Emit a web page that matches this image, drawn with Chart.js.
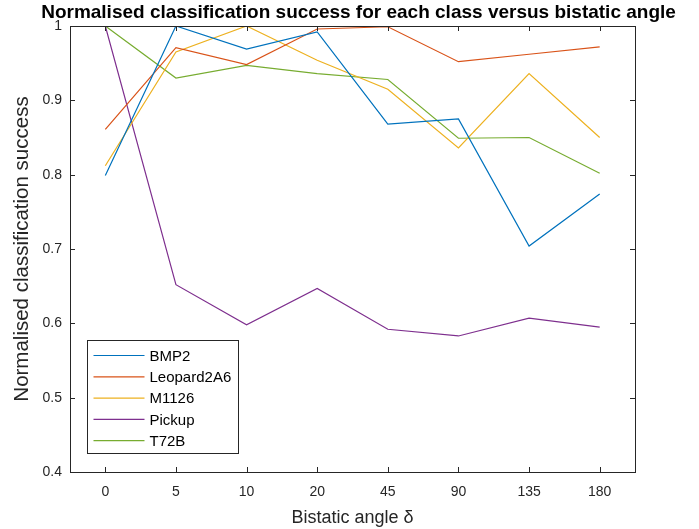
<!DOCTYPE html>
<html>
<head>
<meta charset="utf-8">
<script src="https://cdn.jsdelivr.net/npm/chart.js@4"></script>
<style>
  html, body { margin: 0; padding: 0; background: #fff; }
  #wrap { width: 699px; height: 529px; }
</style>
</head>
<body>
<div id="wrap"><canvas id="chart" width="699" height="529"></canvas></div>
<script>
// ==============================
//  DATA
// ==============================
const ANGLES = ['0', '5', '10', '20', '45', '90', '135', '180'];
const Y_TICKS = [0.4, 0.5, 0.6, 0.7, 0.8, 0.9, 1];

const bmp2      = [0.799, 1.000, 0.969, 0.992, 0.868, 0.875, 0.704, 0.774];
const leopard   = [0.861, 0.971, 0.948, 0.996, 0.999, 0.952, 0.962, 0.972];
const m1126     = [0.812, 0.965, 1.000, 0.954, 0.915, 0.836, 0.936, 0.850];
const pickup    = [1.000, 0.652, 0.598, 0.647, 0.592, 0.583, 0.607, 0.595];
const t72b      = [1.000, 0.930, 0.947, 0.936, 0.928, 0.849, 0.850, 0.802];

const SERIES = [
  { label: 'BMP2',       data: bmp2,    color: '#0072BD' },
  { label: 'Leopard2A6', data: leopard, color: '#D95319' },
  { label: 'M1126',      data: m1126,   color: '#EDB120' },
  { label: 'Pickup',     data: pickup,  color: '#7E2F8E' },
  { label: 'T72B',       data: t72b,    color: '#77AC30' },
];

const FONT = 'Liberation Sans, Arial, Helvetica, sans-serif';
const AXIS = '#262626';

// ==============================
//  PLUGINS
// ==============================
// box round the axes with inward ticks on all four sides (MATLAB style)
const boxPlugin = {
  id: 'box',
  afterDatasetsDraw(chart) {
    const { ctx, chartArea: a, scales } = chart;
    ctx.save();
    ctx.strokeStyle = AXIS;
    ctx.lineWidth = 1;
    ctx.strokeRect(Math.round(a.left) + 0.5, Math.round(a.top) + 0.5,
                   Math.round(a.right - a.left), Math.round(a.bottom - a.top));
    const len = 5;
    ctx.beginPath();
    ANGLES.forEach((_, i) => {
      const x = Math.round(scales.x.getPixelForValue(i)) + 0.5;
      ctx.moveTo(x, a.bottom); ctx.lineTo(x, a.bottom - len);
      ctx.moveTo(x, a.top);    ctx.lineTo(x, a.top + len);
    });
    Y_TICKS.forEach(v => {
      const y = Math.round(scales.y.getPixelForValue(v)) + 0.5;
      ctx.moveTo(a.left, y);  ctx.lineTo(a.left + len, y);
      ctx.moveTo(a.right, y); ctx.lineTo(a.right - len, y);
    });
    ctx.stroke();
    ctx.restore();
  }
};

// legend box inside the axes, lower left
const legendPlugin = {
  id: 'insideLegend',
  afterDraw(chart) {
    const { ctx } = chart;
    const x0 = 87.5, y0 = 340.5, w = 151, h = 113, row = 21.3;
    ctx.save();
    ctx.fillStyle = '#fff';
    ctx.fillRect(x0, y0, w, h);
    ctx.strokeStyle = AXIS;
    ctx.lineWidth = 1;
    ctx.strokeRect(x0, y0, w, h);
    ctx.font = '15px ' + FONT;
    ctx.textBaseline = 'middle';
    chart.data.datasets.forEach((ds, i) => {
      const y = y0 + 15 + i * row;
      ctx.strokeStyle = ds.borderColor;
      ctx.lineWidth = 1.2;
      ctx.beginPath();
      ctx.moveTo(x0 + 6, y);
      ctx.lineTo(x0 + 57, y);
      ctx.stroke();
      ctx.fillStyle = '#000';
      ctx.fillText(ds.label, x0 + 62, y + 1);
    });
    ctx.restore();
  }
};

// ==============================
//  CHART
// ==============================
new Chart(document.getElementById('chart'), {
  type: 'line',
  data: {
    labels: ANGLES,
    datasets: SERIES.map(s => ({
      label: s.label,
      data: s.data,
      borderColor: s.color,
      backgroundColor: s.color,
      borderWidth: 1.2,
      pointRadius: 0,
      tension: 0,
      yAxisID: 'y',
    }))
  },
  options: {
    responsive: false,
    animation: false,
    layout: { padding: { left: 18, right: 0, top: 0, bottom: 0 } },
    plugins: {
      legend: { display: false },
      tooltip: { enabled: false },
      title: {
        display: true,
        text: 'Normalised classification success for each class versus bistatic angle',
        color: '#000',
        font: { family: FONT, size: 19, weight: 'bold', lineHeight: 1.2 },
        padding: { top: 1, bottom: 2.2 },
      },
    },
    scales: {
      x: {
        type: 'category',
        offset: true,
        grid: { display: false, drawTicks: false },
        border: { display: false },
        ticks: { color: AXIS, font: { family: FONT, size: 14 }, padding: 12, maxRotation: 0 },
        title: {
          display: true,
          text: 'Bistatic angle δ',
          color: AXIS,
          font: { family: FONT, size: 18 },
          padding: { top: 3, bottom: 0 },
        },
        afterFit(scale) { scale.height = 57; },
      },
      y: {
        min: 0.4,
        max: 1,
        grid: { display: false, drawTicks: false },
        border: { display: false },
        ticks: {
          stepSize: 0.1,
          color: AXIS,
          font: { family: FONT, size: 14 },
          padding: 8,
          callback: v => String(+v.toFixed(1)),
        },
        title: {
          display: true,
          text: 'Normalised classification success',
          color: AXIS,
          font: { family: FONT, size: 20.5 },
          padding: { top: -8, bottom: 0 },
        },
        afterFit(scale) { scale.width = 52; },
      },
      // empty right-hand margin beside the axes box
      yRight: {
        position: 'right',
        display: true,
        grid: { display: false, drawTicks: false },
        border: { display: false },
        ticks: { display: false },
        afterFit(scale) { scale.width = 64; },
      },
    },
  },
  plugins: [boxPlugin, legendPlugin],
});
</script>
</body>
</html>
